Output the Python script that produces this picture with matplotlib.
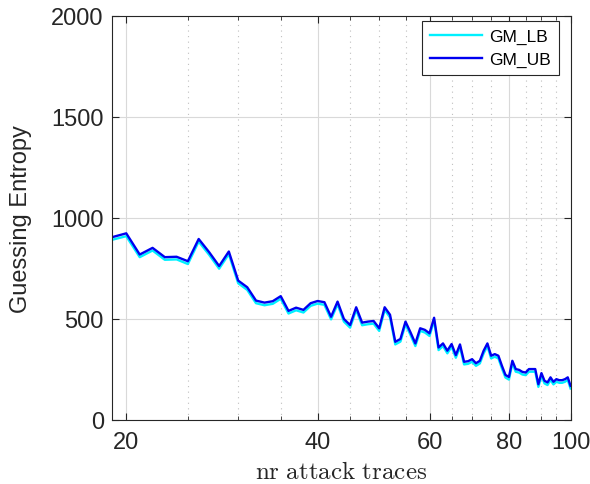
#!/usr/bin/env python3
"""Guessing entropy vs number of attack traces (GM lower / upper bound)."""

import matplotlib
matplotlib.use('Agg')
import matplotlib.pyplot as plt
from matplotlib.ticker import FixedLocator, NullFormatter

plt.rcParams['mathtext.fontset'] = 'cm'
plt.rcParams['font.family'] = ['Liberation Sans', 'DejaVu Sans']

# number of attack traces
traces = list(range(19, 101))

# upper bound
gm_ub = [905, 924, 819, 852, 806, 808, 786, 896, 831, 762,
         834, 690, 657, 591, 581, 588, 613, 540, 556, 545,
         578, 589, 583, 511, 586, 500, 470, 558, 482, 487,
         490, 454, 558, 521, 387, 401, 487, 434, 379, 454,
         446, 429, 506, 359, 379, 343, 376, 321, 374, 288,
         291, 301, 281, 293, 343, 379, 318, 326, 318, 268,
         223, 213, 293, 252, 248, 238, 235, 252, 252, 252,
         177, 232, 194, 186, 211, 189, 202, 197, 197, 202,
         211, 169]

# lower bound, a little below the upper one
gm_lb = [892, 910, 806, 839, 793, 795, 772, 883, 818, 749,
         821, 677, 644, 578, 568, 575, 600, 527, 543, 532,
         565, 576, 570, 498, 573, 487, 457, 545, 469, 474,
         477, 441, 545, 508, 374, 388, 474, 421, 366, 441,
         433, 416, 493, 346, 366, 330, 363, 308, 361, 275,
         278, 288, 268, 280, 330, 366, 305, 313, 305, 255,
         210, 200, 280, 239, 235, 225, 222, 239, 239, 239,
         164, 219, 181, 173, 198, 176, 189, 184, 184, 189,
         198, 156]

x_major = [20, 40, 60, 80, 100]
x_minor = [25, 30, 35, 45, 50, 55, 65, 70, 75, 85, 90, 95]
y_ticks = [0, 500, 1000, 1500, 2000]

fig = plt.figure(figsize=(5.9, 4.85), dpi=100, facecolor='white')
ax = fig.add_axes([0.19, 0.132, 0.777, 0.833])

ax.plot(traces, gm_lb, color='#00f0ff', lw=1.7, label='GM_LB')
ax.plot(traces, gm_ub, color='#0000f0', lw=1.7, label='GM_UB')

ax.set_xscale('log')
ax.set_xlim(19, 100)
ax.set_ylim(0, 2000)
ax.xaxis.set_major_locator(FixedLocator(x_major))
ax.xaxis.set_minor_locator(FixedLocator(x_minor))
ax.xaxis.set_minor_formatter(NullFormatter())
ax.set_xticklabels([str(v) for v in x_major])
ax.set_yticks(y_ticks)

ax.grid(True, which='major', color='#d9d9d9', lw=0.8)
ax.grid(True, which='minor', axis='x', color='#bfbfbf', lw=0.8, ls=(0, (1, 4)))
ax.set_axisbelow(True)

ax.tick_params(which='both', direction='in', top=True, right=True,
               colors='#262626', labelsize=17, labelcolor='#262626')
ax.tick_params(which='major', length=5)
ax.tick_params(which='minor', length=3)
ax.tick_params(axis='x', pad=8)
ax.tick_params(axis='y', pad=6)
for s in ax.spines.values():
    s.set_color('#262626')
    s.set_linewidth(0.8)

ax.set_ylabel('Guessing Entropy', fontsize=17, color='#262626', labelpad=14)
ax.set_xlabel(r'$\mathrm{nr\ attack\ traces}$', fontsize=18, color='#262626',
              labelpad=4.5)

leg = ax.legend(loc='upper right', bbox_to_anchor=(0.974, 0.988),
                fontsize=12.5, fancybox=False, framealpha=1,
                edgecolor='#262626', handlelength=3.0, handletextpad=0.4,
                borderaxespad=0, labelspacing=0.45, borderpad=0.45)
leg.get_frame().set_linewidth(0.8)

fig.savefig('out.png', dpi=100, facecolor='white')
